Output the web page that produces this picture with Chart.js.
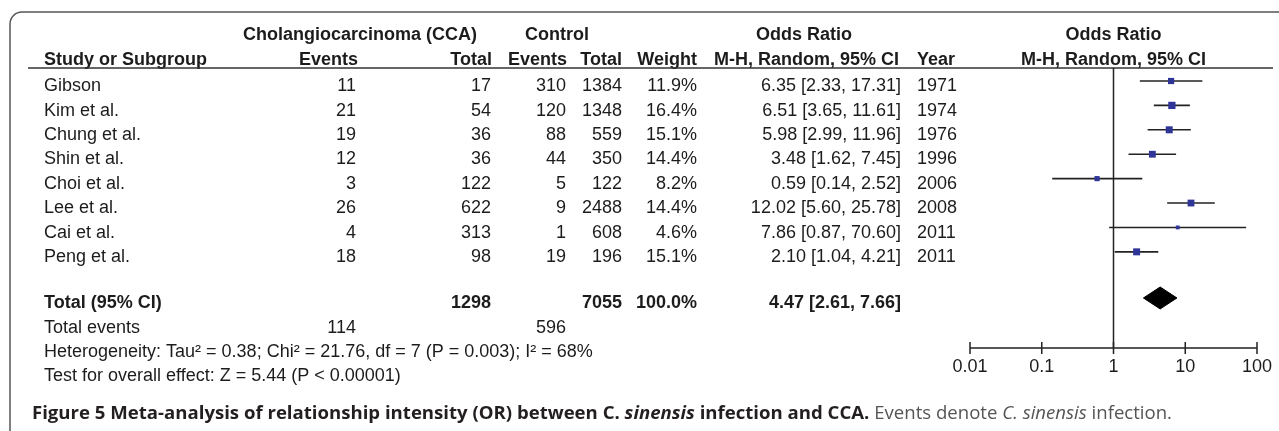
<!DOCTYPE html>
<html>
<head>
<meta charset="utf-8">
<script src="https://cdn.jsdelivr.net/npm/chart.js@4"></script>
<style>
  body { margin: 0; background: #fff; }
  #wrap { width: 1279px; height: 431px; position: relative; }
</style>
</head>
<body>
<div id="wrap"><canvas id="forest"></canvas></div>
<script>
// study rows
const studies = ['Gibson', 'Kim et al.', 'Chung et al.', 'Shin et al.', 'Choi et al.', 'Lee et al.', 'Cai et al.', 'Peng et al.'];
const ccaEvents = [11, 21, 19, 12, 3, 26, 4, 18];
const ccaTotal = [17, 54, 36, 36, 122, 622, 313, 98];
const ctrlEvents = [310, 120, 88, 44, 5, 9, 1, 19];
const ctrlTotal = [1384, 1348, 559, 350, 122, 2488, 608, 196];
const weights = [11.9, 16.4, 15.1, 14.4, 8.2, 14.4, 4.6, 15.1];
const orEst = [6.35, 6.51, 5.98, 3.48, 0.59, 12.02, 7.86, 2.10];
const orLow = [2.33, 3.65, 2.99, 1.62, 0.14, 5.60, 0.87, 1.04];
const orHigh = [17.31, 11.61, 11.96, 7.45, 2.52, 25.78, 70.60, 4.21];
const years = [1971, 1974, 1976, 1996, 2006, 2008, 2011, 2011];

// pooled result
const pooled = [4.47, 2.61, 7.66]; // estimate, low, high
const totals = [1298, 7055];
const totalEvents = [114, 596];
const heterogeneity = 'Heterogeneity: Tau² = 0.38; Chi² = 21.76, df = 7 (P = 0.003); I² = 68%';
const overallTest = 'Test for overall effect: Z = 5.44 (P < 0.00001)';

// axis
const axisTicks = [0.01, 0.1, 1, 10, 100];
const axisLabels = ['0.01', '0.1', '1', '10', '100'];

// row layout (in row units of the y scale)
const TOTAL_ROW = 8.89;
const DIAMOND_H = 0.45;
const TEXT_DY = 5.3; // text sits a little lower than the marks

const FONT = '"Liberation Sans", Arial, Helvetica, sans-serif';
const CAP_FONT = '"Open Sans", "Liberation Sans", sans-serif';

function fmtOR(e, l, h) {
  return e.toFixed(2) + ' [' + l.toFixed(2) + ', ' + h.toFixed(2) + ']';
}

function txt(ctx, s, x, y, align, bold) {
  ctx.font = (bold ? 'bold ' : '') + '18px ' + FONT;
  ctx.textAlign = align || 'left';
  ctx.fillText(s, x, y);
}

const tablePlugin = {
  id: 'table',
  beforeDraw(chart) {
    const ctx = chart.ctx;
    const ys = chart.scales.y, xs = chart.scales.x;
    const area = chart.chartArea;
    const rowY = r => ys.getPixelForValue(r) + TEXT_DY;

    ctx.save();
    ctx.fillStyle = '#fff';
    ctx.fillRect(0, 0, chart.width, chart.height);

    // frame with rounded corner
    ctx.strokeStyle = '#555';
    ctx.lineWidth = 1.5;
    ctx.beginPath();
    ctx.moveTo(10, chart.height + 5);
    ctx.lineTo(10, 24);
    ctx.arcTo(10, 12, 22, 12, 12);
    ctx.lineTo(chart.width + 5, 12);
    ctx.stroke();

    ctx.fillStyle = '#1c1c1c';
    ctx.textBaseline = 'middle';

    // headers
    const h1 = rowY(-2.10), h2 = rowY(-1.08);
    txt(ctx, 'Cholangiocarcinoma (CCA)', 243, h1, 'left', true);
    txt(ctx, 'Control', 525, h1, 'left', true);
    txt(ctx, 'Odds Ratio', 804, h1, 'center', true);
    txt(ctx, 'Odds Ratio', (area.left + area.right) / 2, h1, 'center', true);
    txt(ctx, 'Study or Subgroup', 44, h2, 'left', true);
    txt(ctx, 'Events', 358, h2, 'right', true);
    txt(ctx, 'Total', 492, h2, 'right', true);
    txt(ctx, 'Events', 567, h2, 'right', true);
    txt(ctx, 'Total', 622, h2, 'right', true);
    txt(ctx, 'Weight', 697, h2, 'right', true);
    txt(ctx, 'M-H, Random, 95% CI', 714, h2, 'left', true);
    txt(ctx, 'Year', 917, h2, 'left', true);
    txt(ctx, 'M-H, Random, 95% CI', (area.left + area.right) / 2, h2, 'center', true);

    ctx.strokeStyle = '#333';
    ctx.lineWidth = 1.6;
    ctx.beginPath();
    ctx.moveTo(28, area.top);
    ctx.lineTo(1273, area.top);
    ctx.stroke();

    // study rows
    studies.forEach((s, i) => {
      const y = rowY(i);
      txt(ctx, s, 44, y, 'left');
      txt(ctx, String(ccaEvents[i]), 356, y, 'right');
      txt(ctx, String(ccaTotal[i]), 491, y, 'right');
      txt(ctx, String(ctrlEvents[i]), 566, y, 'right');
      txt(ctx, String(ctrlTotal[i]), 622, y, 'right');
      txt(ctx, weights[i].toFixed(1) + '%', 697, y, 'right');
      txt(ctx, fmtOR(orEst[i], orLow[i], orHigh[i]), 901, y, 'right');
      txt(ctx, String(years[i]), 917, y, 'left');
    });

    // totals
    let y = rowY(TOTAL_ROW);
    txt(ctx, 'Total (95% CI)', 44, y, 'left', true);
    txt(ctx, String(totals[0]), 491, y, 'right', true);
    txt(ctx, String(totals[1]), 622, y, 'right', true);
    txt(ctx, '100.0%', 697, y, 'right', true);
    txt(ctx, fmtOR(pooled[0], pooled[1], pooled[2]), 901, y, 'right', true);
    y = rowY(TOTAL_ROW + 1);
    txt(ctx, 'Total events', 44, y, 'left');
    txt(ctx, String(totalEvents[0]), 356, y, 'right');
    txt(ctx, String(totalEvents[1]), 566, y, 'right');
    txt(ctx, heterogeneity, 44, rowY(TOTAL_ROW + 2), 'left');
    txt(ctx, overallTest, 44, rowY(TOTAL_ROW + 3), 'left');

    // line of no effect
    const x1 = xs.getPixelForValue(1);
    ctx.strokeStyle = '#222';
    ctx.lineWidth = 1.5;
    ctx.beginPath();
    ctx.moveTo(x1, area.top);
    ctx.lineTo(x1, area.bottom);
    ctx.stroke();

    // x axis
    ctx.beginPath();
    ctx.moveTo(xs.getPixelForValue(axisTicks[0]), area.bottom);
    ctx.lineTo(xs.getPixelForValue(axisTicks[axisTicks.length - 1]), area.bottom);
    axisTicks.forEach(t => {
      const px = xs.getPixelForValue(t);
      ctx.moveTo(px, area.bottom - 6);
      ctx.lineTo(px, area.bottom + 6);
    });
    ctx.stroke();
    axisTicks.forEach((t, i) => {
      txt(ctx, axisLabels[i], xs.getPixelForValue(t), area.bottom + 19, 'center');
    });

    // caption
    const parts = [
      ['Figure 5 Meta-analysis of relationship intensity (OR) between C. ', 'bold', '#231f20'],
      ['sinensis', 'italic bold', '#231f20'],
      [' infection and CCA.', 'bold', '#231f20'],
      [' Events denote ', '', '#555'],
      ['C. sinensis', 'italic', '#555'],
      [' infection.', '', '#555']
    ];
    let w = 0;
    parts.forEach(p => {
      ctx.font = p[1] + ' 18px ' + CAP_FONT;
      w += ctx.measureText(p[0]).width;
    });
    const sx = (1172 - 32) / w;
    ctx.translate(32, 414);
    ctx.scale(sx, 1);
    ctx.textAlign = 'left';
    let cx = 0;
    parts.forEach(p => {
      ctx.font = p[1] + ' 18px ' + CAP_FONT;
      ctx.fillStyle = p[2];
      ctx.fillText(p[0], cx, 0);
      cx += ctx.measureText(p[0]).width;
    });
    ctx.restore();
  }
};

// datasets: squares, whiskers, pooled diamond
const squares = {
  data: orEst.map((v, i) => ({ x: v, y: i })),
  pointStyle: 'rect',
  pointRadius: c => 1.27 * Math.sqrt(weights[c.dataIndex]),
  backgroundColor: '#2f3497',
  borderWidth: 0
};

const whiskers = studies.map((s, i) => ({
  data: [{ x: orLow[i], y: i }, { x: orHigh[i], y: i }],
  showLine: true,
  borderColor: '#222',
  borderWidth: 1.6,
  pointRadius: 0
}));

const diamond = {
  data: [
    { x: pooled[1], y: TOTAL_ROW },
    { x: pooled[0], y: TOTAL_ROW - DIAMOND_H },
    { x: pooled[2], y: TOTAL_ROW },
    { x: pooled[0], y: TOTAL_ROW + DIAMOND_H },
    { x: pooled[1], y: TOTAL_ROW }
  ],
  showLine: true,
  fill: 'shape',
  borderColor: '#000',
  backgroundColor: '#000',
  borderWidth: 1,
  pointRadius: 0
};

new Chart(document.getElementById('forest'), {
  type: 'scatter',
  data: { datasets: [squares, ...whiskers, diamond] },
  options: {
    responsive: true,
    maintainAspectRatio: false,
    animation: false,
    layout: { padding: { left: 970, right: 22, top: 68, bottom: 83 } },
    scales: {
      x: { type: 'logarithmic', min: 0.01, max: 100, display: false },
      y: { type: 'linear', min: -0.533, max: 10.94, reverse: true, display: false }
    },
    plugins: { legend: { display: false }, tooltip: { enabled: false } }
  },
  plugins: [tablePlugin]
});
</script>
</body>
</html>
